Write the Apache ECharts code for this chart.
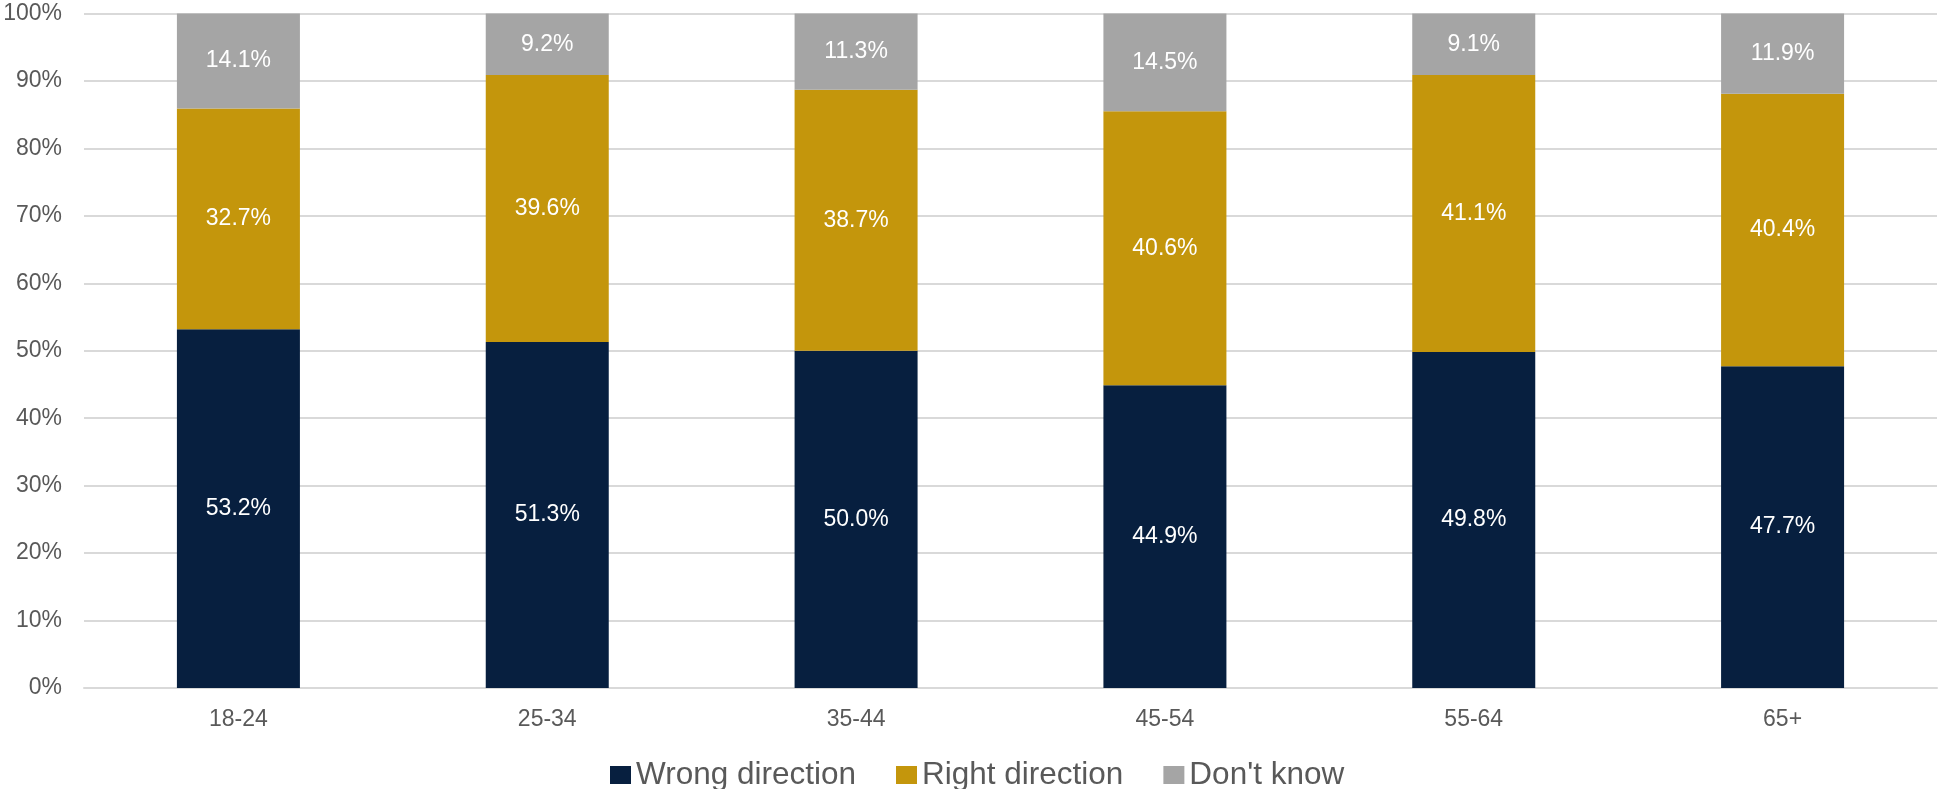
<!DOCTYPE html>
<html>
<head>
<meta charset="utf-8">
<script src="https://cdn.jsdelivr.net/npm/echarts@6/dist/echarts.min.js"></script>
<style>
html,body{margin:0;padding:0;background:#fff;}
#chart{width:1938px;height:789px;}
</style>
</head>
<body>
<div id="chart"></div>
<script>
const categories = ['18-24', '25-34', '35-44', '45-54', '55-64', '65+'];
const wrongDirection = [53.2, 51.3, 50.0, 44.9, 49.8, 47.7];
const rightDirection = [32.7, 39.6, 38.7, 40.6, 41.1, 40.4];
const dontKnow = [14.1, 9.2, 11.3, 14.5, 9.1, 11.9];
const seriesNames = ['Wrong direction', 'Right direction', "Don't know"];
const seriesColors = ['#071f3f', '#c4960c', '#a5a5a5'];

const FONT = '"Liberation Sans", Arial, sans-serif';
const chart = echarts.init(document.getElementById('chart'), null, {renderer: 'canvas'});

function mk(name, data, color) {
  return {
    name: name,
    type: 'bar',
    stack: 'total',
    data: data,
    barWidth: 123,
    itemStyle: {color: color},
    label: {
      show: true,
      position: 'inside',
      color: '#ffffff',
      fontSize: 23,
      fontFamily: FONT,
      formatter: p => p.value.toFixed(1) + '%'
    },
    emphasis: {disabled: true}
  };
}

chart.setOption({
  animation: false,
  backgroundColor: '#ffffff',
  grid: {left: 84, right: 1, top: 13.5, bottom: 101, containLabel: false},
  legend: {
    data: seriesNames,
    left: 605,
    top: 754,
    itemWidth: 21,
    itemHeight: 18,
    itemGap: 40,
    itemTextGap: 3,
    icon: 'rect',
    textStyle: {color: '#595959', fontSize: 31.5, fontFamily: FONT}
  },
  xAxis: {
    type: 'category',
    data: categories,
    axisLine: {show: true, lineStyle: {color: '#d9d9d9', width: 2}},
    axisTick: {show: false},
    axisLabel: {color: '#595959', fontSize: 23, fontFamily: FONT, margin: 20}
  },
  yAxis: {
    type: 'value',
    min: 0,
    max: 100,
    interval: 10,
    axisLine: {show: false},
    axisTick: {show: false},
    splitLine: {show: true, lineStyle: {color: '#d9d9d9', width: 2}},
    axisLabel: {color: '#595959', fontSize: 23, fontFamily: FONT, margin: 22, formatter: v => v + '%'}
  },
  series: [
    mk(seriesNames[0], wrongDirection, seriesColors[0]),
    mk(seriesNames[1], rightDirection, seriesColors[1]),
    mk(seriesNames[2], dontKnow, seriesColors[2])
  ]
});
</script>
</body>
</html>
